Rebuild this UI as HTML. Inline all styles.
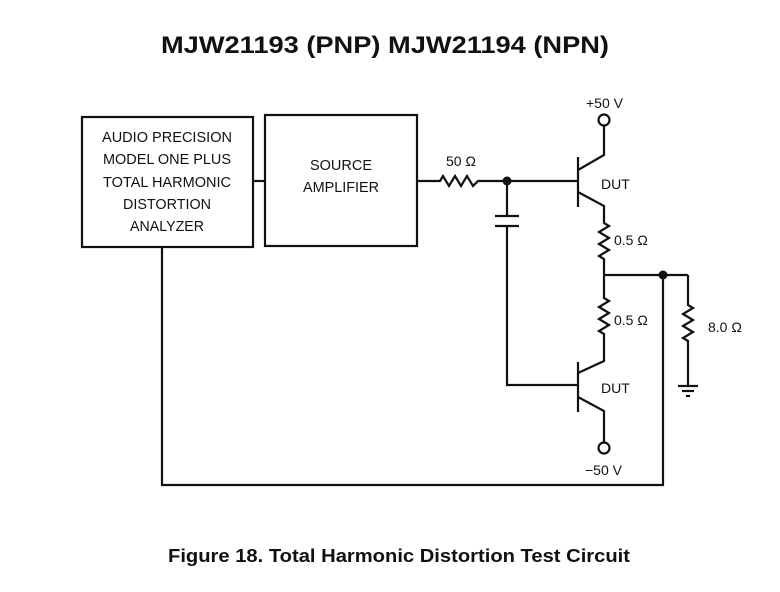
<!DOCTYPE html>
<html><head><style>
html,body{margin:0;padding:0;background:#fff;}
svg{display:block;}
text{font-family:"Liberation Sans",sans-serif;fill:#111;}
</style></head><body>
<svg width="780" height="592" viewBox="0 0 780 592" xmlns="http://www.w3.org/2000/svg">
<text x="385" y="53" text-anchor="middle" font-size="24" font-weight="bold" textLength="448" lengthAdjust="spacingAndGlyphs">MJW21193 (PNP) MJW21194 (NPN)</text>
<g fill="none" stroke="#111" stroke-width="2.2">
<rect x="82" y="117" width="171" height="130"/>
<rect x="265" y="115" width="152" height="131"/>
<line x1="253" y1="181" x2="265" y2="181"/>
<polyline points="417,181 440,181 443,176 449,186 455,176 461,186 467,176 473,186 478,181 578,181"/>
<line x1="507" y1="181" x2="507" y2="216"/>
<line x1="495" y1="216" x2="519" y2="216"/>
<line x1="495" y1="226" x2="519" y2="226"/>
<polyline points="507,226 507,385 578,385"/>
<line x1="578" y1="157" x2="578" y2="207"/>
<polyline points="604,125 604,155 578,170"/>
<polyline points="578,192 604,206 604,223 609,226 599,232 609,238 599,244 609,250 599,256 604,259 604,298 609,301 599,307 609,313 599,319 609,325 599,331 604,334 604,361 578,373"/>
<line x1="578" y1="362" x2="578" y2="412"/>
<polyline points="578,397 604,411 604,443"/>
<line x1="604" y1="275" x2="688" y2="275"/>
<polyline points="688,275 688,305 693,308 683,314 693,320 683,326 693,332 683,338 688,341 688,386"/>
<line x1="678" y1="386" x2="698" y2="386"/>
<line x1="682" y1="391" x2="694" y2="391"/>
<line x1="686" y1="396" x2="690" y2="396"/>
<polyline points="162,247 162,485 663,485 663,275"/>
<circle cx="604" cy="120" r="5.5"/>
<circle cx="604" cy="448" r="5.5"/>
</g>
<circle cx="507" cy="181" r="4.5" fill="#111"/>
<circle cx="663" cy="275" r="4.5" fill="#111"/>
<g font-size="15" text-anchor="middle">
<text x="167" y="142" textLength="130" lengthAdjust="spacingAndGlyphs">AUDIO PRECISION</text>
<text x="167" y="164" textLength="128" lengthAdjust="spacingAndGlyphs">MODEL ONE PLUS</text>
<text x="167" y="187" textLength="128" lengthAdjust="spacingAndGlyphs">TOTAL HARMONIC</text>
<text x="167" y="209" textLength="88" lengthAdjust="spacingAndGlyphs">DISTORTION</text>
<text x="167" y="231" textLength="74" lengthAdjust="spacingAndGlyphs">ANALYZER</text>
<text x="341" y="170" textLength="62" lengthAdjust="spacingAndGlyphs">SOURCE</text>
<text x="341" y="192" textLength="76" lengthAdjust="spacingAndGlyphs">AMPLIFIER</text>
</g>
<g font-size="14">
<text x="446" y="166">50 Ω</text>
<text x="586" y="108">+50 V</text>
<text x="601" y="189">DUT</text>
<text x="614" y="245">0.5 Ω</text>
<text x="614" y="325">0.5 Ω</text>
<text x="708" y="332">8.0 Ω</text>
<text x="601" y="393">DUT</text>
<text x="585" y="475">−50 V</text>
</g>
<text x="399" y="562" text-anchor="middle" font-size="18" font-weight="bold" textLength="462" lengthAdjust="spacingAndGlyphs">Figure 18. Total Harmonic Distortion Test Circuit</text>
</svg>
</body></html>
